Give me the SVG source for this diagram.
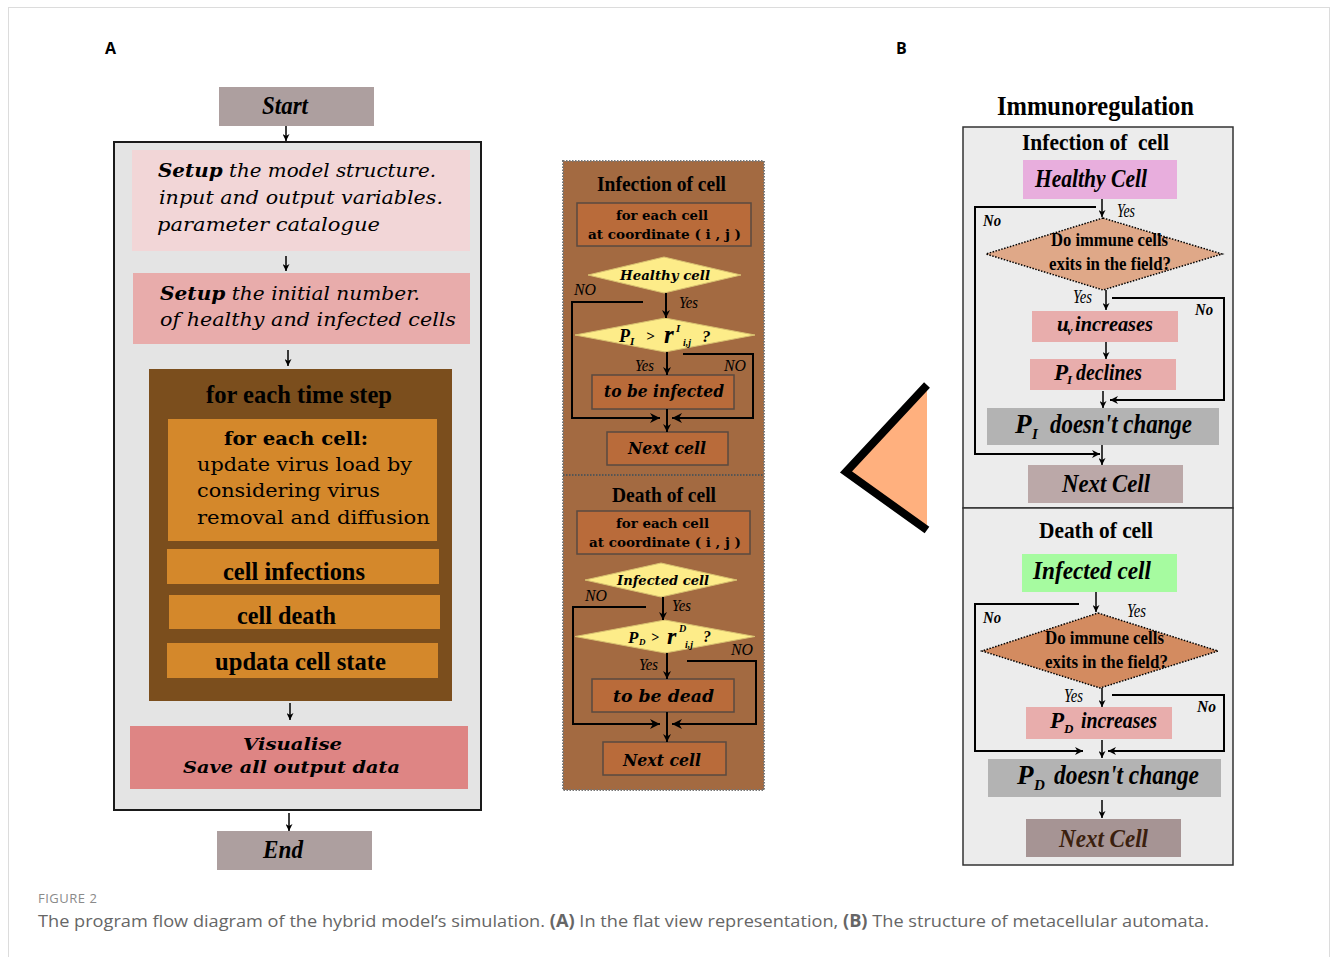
<svg xmlns="http://www.w3.org/2000/svg" width="1331" height="957" viewBox="0 0 1331 957">
<defs>
<marker id="a" viewBox="0 0 10 10" refX="10" refY="5" markerWidth="10" markerHeight="7" markerUnits="userSpaceOnUse" orient="auto"><path d="M0,0 L10,5 L0,10 L3,5 z" fill="#000"/></marker>
<marker id="b" viewBox="0 0 10 10" refX="10" refY="5" markerWidth="15" markerHeight="10" markerUnits="userSpaceOnUse" orient="auto"><path d="M0,0 L10,5 L0,10 L3,5 z" fill="#000"/></marker>
<marker id="c" viewBox="0 0 10 10" refX="10" refY="5" markerWidth="12" markerHeight="8" markerUnits="userSpaceOnUse" orient="auto"><path d="M0,0 L10,5 L0,10 L3,5 z" fill="#000"/></marker>
</defs>
<style>
.tb{font-family:"Liberation Serif","Times New Roman",serif;font-weight:bold}
.ti{font-family:"Liberation Serif","Times New Roman",serif;font-style:italic}
.tbi{font-family:"Liberation Serif","Times New Roman",serif;font-style:italic;font-weight:bold}
.bk{font-family:"DejaVu Serif",serif}
.bki{font-family:"DejaVu Serif",serif;font-style:italic}
.bkb{font-family:"DejaVu Serif",serif;font-weight:bold}
.bkbi{font-family:"DejaVu Serif",serif;font-style:italic;font-weight:bold}
.ln{fill:none;stroke:#000;stroke-width:2}
.thin{fill:none;stroke:#000;stroke-width:1.5}
.cap{font-family:"Open Sans","Liberation Sans",sans-serif}
</style>
<rect x="8.5" y="7.5" width="1321" height="962" fill="#fff" stroke="#dcdcdc"/>
<text x="105" y="54" class="cap" font-size="16" font-weight="bold">A</text>
<text x="896" y="54" class="cap" font-size="16" font-weight="bold">B</text>

<!-- Panel A -->
<g id="a-outer"><rect x="114" y="142" width="367" height="668" fill="#e4e4e4" stroke="#1a1a1a" stroke-width="2"/></g>
<g id="a-start"><rect x="219" y="87" width="155" height="39" fill="#ad9f9f"/><text x="262" y="114" class="tbi" font-size="26" textLength="46" lengthAdjust="spacingAndGlyphs">Start</text></g>
<g id="a-setup1"><rect x="132" y="150" width="338" height="101" fill="#f2d6d7"/>
<text x="158" y="177" class="bki" font-size="19" textLength="278" lengthAdjust="spacingAndGlyphs"><tspan font-weight="bold">Setup</tspan> the model structure.</text>
<text x="159" y="204" class="bki" font-size="19" textLength="284" lengthAdjust="spacingAndGlyphs">input and output variables.</text>
<text x="157" y="231" class="bki" font-size="19" textLength="223" lengthAdjust="spacingAndGlyphs">parameter catalogue</text></g>
<g id="a-setup2"><rect x="133" y="273" width="337" height="71" fill="#e8acab"/>
<text x="160" y="300" class="bki" font-size="19" textLength="260" lengthAdjust="spacingAndGlyphs"><tspan font-weight="bold">Setup</tspan> the initial number.</text>
<text x="160" y="326" class="bki" font-size="19" textLength="296" lengthAdjust="spacingAndGlyphs">of healthy and infected cells</text></g>
<g id="a-loop"><rect x="149" y="369" width="303" height="332" fill="#7b4e1d"/>
<text x="206" y="403" class="tb" font-size="26" textLength="186" lengthAdjust="spacingAndGlyphs">for each time step</text></g>
<g id="a-cell"><rect x="168" y="419" width="269" height="122" fill="#d4882b"/>
<text x="224" y="445" class="bkb" font-size="18" textLength="144" lengthAdjust="spacingAndGlyphs">for each cell:</text>
<text x="197" y="471" class="bk" font-size="18" textLength="215" lengthAdjust="spacingAndGlyphs">update virus load by</text>
<text x="197" y="497" class="bk" font-size="18" textLength="183" lengthAdjust="spacingAndGlyphs">considering virus</text>
<text x="197" y="524" class="bk" font-size="18" textLength="233" lengthAdjust="spacingAndGlyphs">removal and diffusion</text></g>
<g id="a-infections"><rect x="167" y="549" width="272" height="35" fill="#d4882b"/><text x="223" y="580" class="tb" font-size="26" textLength="142" lengthAdjust="spacingAndGlyphs">cell infections</text></g>
<g id="a-death"><rect x="169" y="595" width="271" height="34" fill="#d4882b"/><text x="237" y="624" class="tb" font-size="26" textLength="99" lengthAdjust="spacingAndGlyphs">cell death</text></g>
<g id="a-update"><rect x="167" y="643" width="271" height="35" fill="#d4882b"/><text x="215" y="670" class="tb" font-size="26" textLength="171" lengthAdjust="spacingAndGlyphs">updata cell state</text></g>
<g id="a-vis"><rect x="130" y="726" width="338" height="63" fill="#de8584"/>
<text x="243" y="750" class="bkbi" font-size="17" textLength="99" lengthAdjust="spacingAndGlyphs">Visualise</text>
<text x="183" y="773" class="bkbi" font-size="17" textLength="217" lengthAdjust="spacingAndGlyphs">Save all output data</text></g>
<g id="a-end"><rect x="217" y="831" width="155" height="39" fill="#ad9f9f"/><text x="263" y="858" class="tbi" font-size="26" textLength="40" lengthAdjust="spacingAndGlyphs">End</text></g>

<!-- Panel A middle -->
<g id="m-panel"><rect x="563" y="161" width="201" height="629" fill="#a36a41" stroke="#777" stroke-width="2" stroke-dasharray="1.5,1.5"/>
<line x1="563" y1="475" x2="764" y2="475" stroke="#555" stroke-width="2" stroke-dasharray="1.5,1.5"/></g>
<g id="m-inf-title"><text x="597" y="191" class="tb" font-size="21" textLength="129" lengthAdjust="spacingAndGlyphs">Infection of cell</text></g>
<g id="m-inf-foreach"><rect x="577" y="203" width="174" height="43" fill="#b96b3a" stroke="#5a4a40" stroke-width="1.5"/>
<text x="616" y="219.5" class="bkb" font-size="13" textLength="92" lengthAdjust="spacingAndGlyphs">for each cell</text>
<text x="588" y="239" class="bkb" font-size="13" textLength="153" lengthAdjust="spacingAndGlyphs">at coordinate ( i , j )</text></g>
<g id="m-healthy"><polygon points="664,257 741,275 664,293 588,275" fill="#fdec89" stroke="#d8c070" stroke-width="1"/>
<text x="620" y="279.5" class="bkbi" font-size="13" textLength="90" lengthAdjust="spacingAndGlyphs">Healthy cell</text></g>
<g id="m-pi"><polygon points="665,318 755,335 665,352 575,335" fill="#fdec89" stroke="#d8c070" stroke-width="1"/>
<text class="tbi" font-size="18"><tspan x="619" y="342">P</tspan><tspan x="630" y="345" font-size="11">I</tspan><tspan x="646" y="341" font-size="15">&gt;</tspan><tspan x="664" y="343" font-size="25">r</tspan><tspan x="676" y="332" font-size="11">I</tspan><tspan x="683" y="346" font-size="10">i,j</tspan><tspan x="702" y="342" font-size="17">?</tspan></text></g>
<g id="m-infected-box"><rect x="592" y="375" width="142" height="34" fill="#b96b3a" stroke="#5a4a40" stroke-width="1.5"/>
<text x="604" y="397" class="bkbi" font-size="17" textLength="120" lengthAdjust="spacingAndGlyphs">to be infected</text></g>
<g id="m-next1"><rect x="607" y="432" width="121" height="33" fill="#b96b3a" stroke="#5a4a40" stroke-width="1.5"/>
<text x="628" y="454" class="bkbi" font-size="17" textLength="78" lengthAdjust="spacingAndGlyphs">Next cell</text></g>
<g id="m-death-title"><text x="612" y="502" class="tb" font-size="21" textLength="104" lengthAdjust="spacingAndGlyphs">Death of cell</text></g>
<g id="m-death-foreach"><rect x="577" y="511" width="173" height="43" fill="#b96b3a" stroke="#5a4a40" stroke-width="1.5"/>
<text x="616" y="527.5" class="bkb" font-size="13" textLength="93" lengthAdjust="spacingAndGlyphs">for each cell</text>
<text x="589" y="547" class="bkb" font-size="13" textLength="152" lengthAdjust="spacingAndGlyphs">at coordinate ( i , j )</text></g>
<g id="m-infected"><polygon points="661,563 737,580 661,597 585,580" fill="#fdec89" stroke="#d8c070" stroke-width="1"/>
<text x="617" y="585" class="bkbi" font-size="13" textLength="92" lengthAdjust="spacingAndGlyphs">Infected cell</text></g>
<g id="m-pd"><polygon points="665,620 755,636.5 665,653 575,636.5" fill="#fdec89" stroke="#d8c070" stroke-width="1"/>
<text class="tbi" font-size="17"><tspan x="628" y="643">P</tspan><tspan x="639" y="645" font-size="9">D</tspan><tspan x="651" y="642" font-size="14">&gt;</tspan><tspan x="667" y="644" font-size="24">r</tspan><tspan x="679" y="632" font-size="10">D</tspan><tspan x="685" y="648" font-size="10">i,j</tspan><tspan x="703" y="642" font-size="16">?</tspan></text></g>
<g id="m-dead-box"><rect x="592" y="679" width="142" height="33" fill="#b96b3a" stroke="#5a4a40" stroke-width="1.5"/>
<text x="613" y="702" class="bkbi" font-size="17" textLength="101" lengthAdjust="spacingAndGlyphs">to be dead</text></g>
<g id="m-next2"><rect x="603" y="742" width="123" height="33" fill="#b96b3a" stroke="#5a4a40" stroke-width="1.5"/>
<text x="623" y="766" class="bkbi" font-size="17" textLength="78" lengthAdjust="spacingAndGlyphs">Next cell</text></g>
<g id="m-labels" class="ti" font-size="17">
<text x="574" y="295" textLength="22" lengthAdjust="spacingAndGlyphs">NO</text>
<text x="679" y="308" textLength="19" lengthAdjust="spacingAndGlyphs">Yes</text>
<text x="635" y="371" textLength="19" lengthAdjust="spacingAndGlyphs">Yes</text>
<text x="724" y="371" textLength="22" lengthAdjust="spacingAndGlyphs">NO</text>
<text x="585" y="601" textLength="22" lengthAdjust="spacingAndGlyphs">NO</text>
<text x="672" y="611" textLength="19" lengthAdjust="spacingAndGlyphs">Yes</text>
<text x="639" y="670" textLength="19" lengthAdjust="spacingAndGlyphs">Yes</text>
<text x="731" y="655" textLength="22" lengthAdjust="spacingAndGlyphs">NO</text>
</g>

<!-- Triangle -->
<g id="triangle"><polygon points="927,385 845,472 927,530" fill="#ffb07e"/>
<polyline points="927,385 846,472 927,530" fill="none" stroke="#000" stroke-width="8" stroke-linejoin="miter" stroke-miterlimit="3"/></g>

<!-- Panel B -->
<g id="b-title"><text x="997" y="115" class="tb" font-size="27" textLength="197" lengthAdjust="spacingAndGlyphs">Immunoregulation</text></g>
<g id="b-top"><rect x="963" y="127" width="270" height="381" fill="#ececec" stroke="#333" stroke-width="1.5"/>
<text x="1022" y="150" class="tb" font-size="23" textLength="147" lengthAdjust="spacingAndGlyphs" xml:space="preserve">Infection of  cell</text></g>
<g id="b-healthy"><rect x="1023" y="160" width="154" height="39" fill="#e8aedd"/>
<text x="1035" y="187" class="tbi" font-size="26" textLength="112" lengthAdjust="spacingAndGlyphs">Healthy Cell</text></g>
<g id="b-q1"><polygon points="1103,218 1222,254 1103,290 986,254" fill="#dfa888" stroke="#000" stroke-width="1.5" stroke-dasharray="1.5,1.5"/>
<text x="1051" y="246" class="tb" font-size="18" textLength="117" lengthAdjust="spacingAndGlyphs">Do immune cells</text>
<text x="1049" y="270" class="tb" font-size="18" textLength="122" lengthAdjust="spacingAndGlyphs">exits in the field?</text></g>
<g id="b-uv"><rect x="1032" y="311" width="146" height="31" fill="#e8adac"/>
<text class="tbi" font-size="21"><tspan x="1057" y="331">u</tspan><tspan x="1067" y="335" font-size="12">v</tspan><tspan x="1075" y="331" textLength="78" lengthAdjust="spacingAndGlyphs">increases</tspan></text></g>
<g id="b-pi"><rect x="1030" y="359" width="146" height="31" fill="#e8adac"/>
<text class="tbi" font-size="23"><tspan x="1054" y="380">P</tspan><tspan x="1067" y="384" font-size="13">I</tspan><tspan x="1076" y="380" textLength="66" lengthAdjust="spacingAndGlyphs">declines</tspan></text></g>
<g id="b-pinc"><rect x="987" y="408" width="232" height="37" fill="#b3b3b3"/>
<text class="tbi" font-size="27"><tspan x="1015" y="433">P</tspan><tspan x="1032" y="439" font-size="15">I</tspan><tspan x="1050" y="433" textLength="142" lengthAdjust="spacingAndGlyphs">doesn't change</tspan></text></g>
<g id="b-next1"><rect x="1028" y="465" width="155" height="38" fill="#bba8a8"/>
<text x="1062" y="492" class="tbi" font-size="26" textLength="88" lengthAdjust="spacingAndGlyphs">Next Cell</text></g>
<g id="b-bottom"><rect x="963" y="508" width="270" height="357" fill="#ececec" stroke="#333" stroke-width="1.5"/>
<text x="1039" y="538" class="tb" font-size="23" textLength="114" lengthAdjust="spacingAndGlyphs">Death of cell</text></g>
<g id="b-infected"><rect x="1022" y="554" width="155" height="38" fill="#a6fba0"/>
<text x="1033" y="579" class="tbi" font-size="26" textLength="118" lengthAdjust="spacingAndGlyphs">Infected cell</text></g>
<g id="b-q2"><polygon points="1098,613 1218,651 1100,688 982,651" fill="#d38b60" stroke="#000" stroke-width="1.5" stroke-dasharray="1.5,1.5"/>
<text x="1045" y="644" class="tb" font-size="18" textLength="119" lengthAdjust="spacingAndGlyphs">Do immune cells</text>
<text x="1045" y="668" class="tb" font-size="18" textLength="123" lengthAdjust="spacingAndGlyphs">exits in the field?</text></g>
<g id="b-pd"><rect x="1026" y="707" width="146" height="32" fill="#e8adac"/>
<text class="tbi" font-size="23"><tspan x="1050" y="728">P</tspan><tspan x="1064" y="733" font-size="13">D</tspan><tspan x="1081" y="728" textLength="76" lengthAdjust="spacingAndGlyphs">increases</tspan></text></g>
<g id="b-pdnc"><rect x="988" y="759" width="233" height="38" fill="#b3b3b3"/>
<text class="tbi" font-size="27"><tspan x="1017" y="784">P</tspan><tspan x="1034" y="790" font-size="15">D</tspan><tspan x="1054" y="784" textLength="145" lengthAdjust="spacingAndGlyphs">doesn't change</tspan></text></g>
<g id="b-next2"><rect x="1026" y="819" width="155" height="38" fill="#a69494"/>
<text x="1059" y="847" class="tbi" font-size="26" fill="#3b1f0e" textLength="89" lengthAdjust="spacingAndGlyphs">Next Cell</text></g>
<g id="b-labels" class="ti" font-size="18">
<text x="1117" y="217" textLength="18" lengthAdjust="spacingAndGlyphs">Yes</text>
<text x="983" y="226" class="tbi" font-size="17" textLength="18" lengthAdjust="spacingAndGlyphs">No</text>
<text x="1073" y="303" textLength="19" lengthAdjust="spacingAndGlyphs">Yes</text>
<text x="1195" y="315" class="tbi" font-size="17" textLength="18" lengthAdjust="spacingAndGlyphs">No</text>
<text x="1127" y="617" textLength="19" lengthAdjust="spacingAndGlyphs">Yes</text>
<text x="983" y="623" class="tbi" font-size="17" textLength="18" lengthAdjust="spacingAndGlyphs">No</text>
<text x="1064" y="702" textLength="19" lengthAdjust="spacingAndGlyphs">Yes</text>
<text x="1197" y="712" class="tbi" font-size="17" textLength="19" lengthAdjust="spacingAndGlyphs">No</text>
</g>

<!-- Connectors -->
<g id="connectors">
<line class="thin" x1="286" y1="126" x2="286" y2="141" marker-end="url(#a)"/>
<line class="thin" x1="286" y1="256" x2="286" y2="271" marker-end="url(#a)"/>
<line class="thin" x1="288" y1="350" x2="288" y2="366" marker-end="url(#a)"/>
<line class="thin" x1="290" y1="703" x2="290" y2="720" marker-end="url(#a)"/>
<line class="thin" x1="289" y1="813" x2="289" y2="831" marker-end="url(#a)"/>

<line class="ln" x1="666" y1="293" x2="666" y2="318" marker-end="url(#c)"/>
<polyline class="ln" points="643,302 572,302 572,418 660,418" marker-end="url(#b)"/>
<line class="ln" x1="667" y1="352" x2="667" y2="375" marker-end="url(#c)"/>
<polyline class="ln" points="683,354 753,354 753,418 672,418" marker-end="url(#b)"/>
<line class="ln" x1="667" y1="409" x2="667" y2="432" marker-end="url(#c)"/>
<line class="ln" x1="663" y1="597" x2="663" y2="620" marker-end="url(#c)"/>
<polyline class="ln" points="646,607 573,607 573,724 660,724" marker-end="url(#b)"/>
<line class="ln" x1="667" y1="653" x2="667" y2="679" marker-end="url(#c)"/>
<polyline class="ln" points="687,661 756,661 756,724 672,724" marker-end="url(#b)"/>
<line class="ln" x1="667" y1="712" x2="667" y2="742" marker-end="url(#c)"/>

<line class="thin" x1="1102" y1="199" x2="1102" y2="217" marker-end="url(#a)"/>
<polyline class="ln" points="1096,207 975,207 975,454 1100,454" marker-end="url(#c)"/>
<line class="thin" x1="1106" y1="290" x2="1106" y2="310" marker-end="url(#a)"/>
<polyline class="ln" points="1112,298 1224,298 1224,400 1110,400" marker-end="url(#c)"/>
<line class="thin" x1="1106" y1="342" x2="1106" y2="359" marker-end="url(#a)"/>
<line class="thin" x1="1103" y1="391" x2="1103" y2="408" marker-end="url(#a)"/>
<line class="thin" x1="1102" y1="445" x2="1102" y2="465" marker-end="url(#a)"/>
<line class="thin" x1="1096" y1="592" x2="1096" y2="612" marker-end="url(#a)"/>
<polyline class="ln" points="1079,604 975,604 975,751 1083,751" marker-end="url(#c)"/>
<line class="thin" x1="1102" y1="688" x2="1102" y2="707" marker-end="url(#a)"/>
<polyline class="ln" points="1112,695 1224,695 1224,751 1108,751" marker-end="url(#c)"/>
<line class="thin" x1="1102" y1="740" x2="1102" y2="758" marker-end="url(#a)"/>
<line class="thin" x1="1102" y1="800" x2="1102" y2="818" marker-end="url(#a)"/>
</g>

<!-- Caption -->
<text x="38" y="903" class="cap" font-size="13" fill="#8a8a8a" letter-spacing="0.5">FIGURE 2</text>
<text x="38" y="927" class="cap" font-size="17" fill="#666" textLength="1171" lengthAdjust="spacingAndGlyphs">The program flow diagram of the hybrid model’s simulation. <tspan font-weight="bold">(A)</tspan> In the flat view representation, <tspan font-weight="bold">(B)</tspan> The structure of metacellular automata.</text>
</svg>
